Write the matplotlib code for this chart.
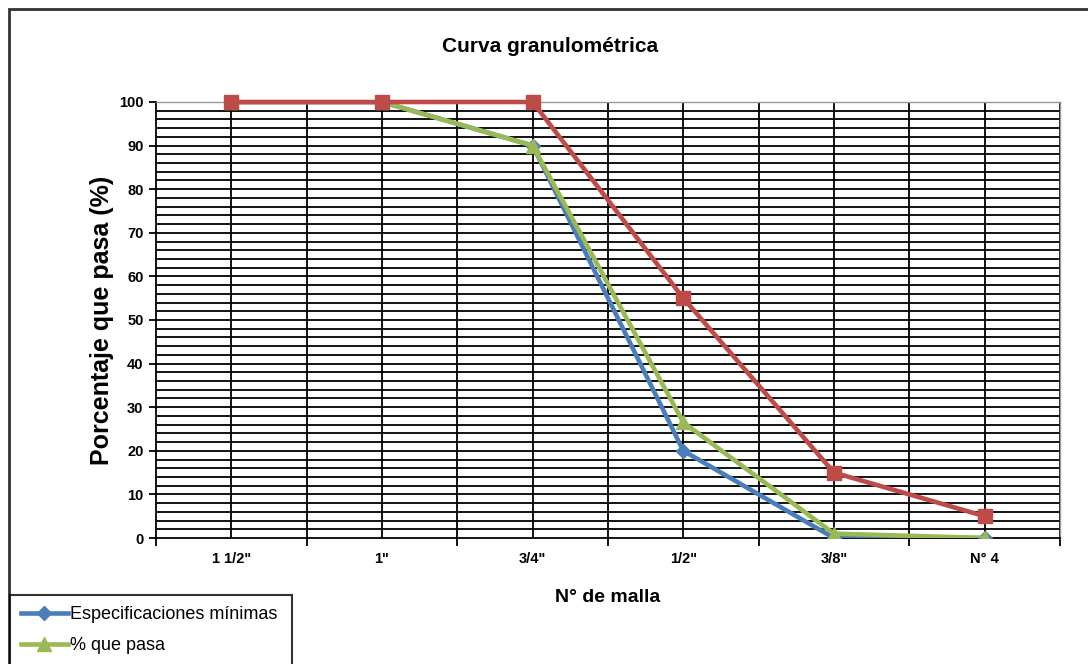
import matplotlib
matplotlib.use("Agg")
import matplotlib.pyplot as plt
from matplotlib.patches import Rectangle
import numpy as np

plt.rcParams["font.family"] = ["Liberation Sans", "DejaVu Sans"]

# Data
mallas = ['1 1/2"', '1"', '3/4"', '1/2"', '3/8"', 'N° 4']
esp_min = [100, 100, 90, 20, 0, 0]
que_pasa = [100, 100, 90, 26.5, 1, 0]
esp_max = [100, 100, 100, 55, 15, 5]

fig = plt.figure(figsize=(10.88, 6.64), dpi=100)
ax = fig.add_axes([156 / 1088, 1 - 538 / 664, (1060 - 156) / 1088, (538 - 102) / 664])

x = np.arange(len(mallas))

# grid lines (every 2 % horizontally, every half category vertically)
for yv in np.arange(2, 100, 2):
    ax.axhline(yv, color="black", lw=1.3, zorder=1)
for xv in np.arange(0, len(mallas) - 0.5 + 0.01, 0.5):
    ax.axvline(xv, color="black", lw=1.3, zorder=1)

ax.plot(x, esp_min, color="#4a7ebb", lw=3.3, marker="D", ms=7,
        label="Especificaciones mínimas", zorder=3)
ax.plot(x, que_pasa, color="#98b954", lw=3.3, marker="^", ms=10,
        label="% que pasa", zorder=4)
ax.plot(x, esp_max, color="#be4b48", lw=3.3, marker="s", ms=10,
        label="Especificaciones máximas", zorder=5, clip_on=False)

ax.set_xlim(-0.5, len(mallas) - 0.5)
ax.set_ylim(0, 100)
ax.set_yticks(np.arange(0, 101, 10))
ax.set_xticks(x)
ax.set_xticklabels(mallas)
ax.set_xticks(np.arange(-0.5, len(mallas), 1.0), minor=True)

ax.tick_params(axis="x", which="major", length=0, pad=10, labelsize=10.5)
ax.tick_params(axis="x", which="minor", length=6, width=1.3, direction="out")
ax.tick_params(axis="y", which="major", length=5, width=1.3, direction="out", labelsize=10.5, pad=4)
for lab in ax.get_xticklabels() + ax.get_yticklabels():
    lab.set_fontweight("bold")

ax.spines["left"].set_color("black")
ax.spines["left"].set_linewidth(1.3)
ax.spines["bottom"].set_color("black")
ax.spines["bottom"].set_linewidth(1.3)
ax.spines["top"].set_color("#999999")
ax.spines["top"].set_linewidth(1)
ax.spines["right"].set_color("#999999")
ax.spines["right"].set_linewidth(1)

ax.set_xlabel("N° de malla", fontsize=14, fontweight="bold", labelpad=17)
ax.set_ylabel("Porcentaje que pasa (%)", fontsize=18, fontweight="bold")
ax.yaxis.set_label_coords(-0.047, 0.5)
fig.text(550 / 1088, 1 - 47 / 664, "Curva granulométrica", fontsize=15,
         fontweight="bold", ha="center", va="center")

# outer chart frame, running past the right and bottom edges
fig.patches.append(Rectangle((9 / 1088, -0.2), 1.2, (664 - 9) / 664 + 0.2,
                             transform=fig.transFigure, fill=False,
                             edgecolor="#333333", lw=2))

# legend box is cut by the bottom edge, only two entries are visible
leg = fig.legend(loc="upper left", bbox_to_anchor=(10 / 1088, 1 - 595 / 664),
                 fontsize=13, frameon=True, fancybox=False, edgecolor="black",
                 handlelength=2.6, borderpad=0.6, labelspacing=0.8,
                 handletextpad=0.1, borderaxespad=0)
leg.get_frame().set_linewidth(1.5)

fig.savefig("out.png", dpi=100)
